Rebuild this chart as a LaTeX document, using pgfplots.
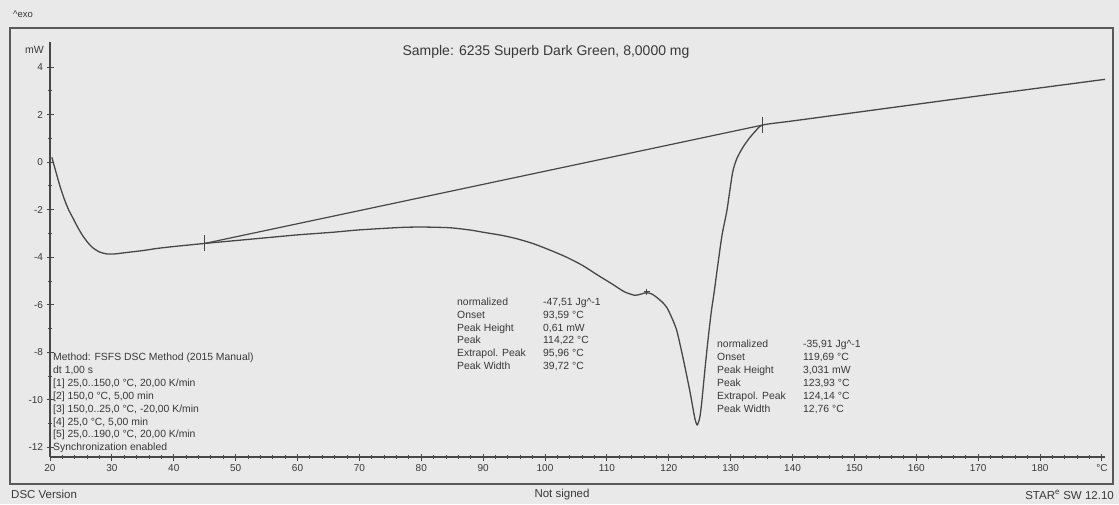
\documentclass[border=0pt]{standalone}
\usepackage{fontspec}
\setmainfont{Liberation Sans}
\usepackage{pgfplots}
\pgfplotsset{compat=1.18}
\definecolor{bg}{gray}{0.915}
\definecolor{ink}{gray}{0.28}
\definecolor{txt}{gray}{0.22}
\begin{document}
\begin{tikzpicture}[x=1pt,y=1pt]
\fill[bg] (0,0) rectangle (1119,504);
\useasboundingbox (0,0) rectangle (1119,504);
\draw[gray!70!black, line width=1.6pt] (10,20) rectangle (1113,476);
\begin{axis}[
  at={(50pt,47pt)}, anchor=south west,
  scale only axis, width=1055pt, height=415pt,
  xmin=20, xmax=190.5, ymin=-12.4, ymax=5.05,
  axis x line=bottom, axis y line=left,
  axis line style={-, draw=ink, line width=1.3pt},
  xtick={20,30,40,50,60,70,80,90,100,110,120,130,140,150,160,170,180,190},
  xticklabels={20,30,40,50,60,70,80,90,100,110,120,130,140,150,160,170,180,°C},
  minor x tick num=4,
  ytick={-12,-10,-8,-6,-4,-2,0,2,4},
  minor y tick num=1,
  tick align=center, major tick length=7pt, minor tick length=4pt,
  every tick/.style={ink, line width=0.9pt},
  ticklabel style={font=\fontsize{10}{11}\selectfont, text=txt},
  /pgf/number format/assume math mode=true,
]
\addplot[ink, line width=1.3pt, smooth, tension=0.4] coordinates {
(20.3,0.2) (21.0,-0.45) (21.6,-1.0) (22.3,-1.55) (23.0,-2.0) (23.7,-2.35)
(24.5,-2.75) (25.3,-3.1) (26.1,-3.38) (26.9,-3.6) (28.0,-3.78) (29.2,-3.86)
(30.5,-3.86) (32.4,-3.80) (35.0,-3.72) (37.3,-3.63) (40.0,-3.55) (45.0,-3.42)
(50.0,-3.30) (55.0,-3.18) (60.0,-3.06) (65.7,-2.95) (70.0,-2.85) (76.5,-2.75)
(80.0,-2.73) (84.6,-2.76) (88.0,-2.86) (90.0,-2.95) (93.0,-3.08) (95.4,-3.22)
(98.0,-3.42) (100.8,-3.70) (103.5,-4.0) (106.1,-4.35) (108.5,-4.75) (111.0,-5.15)
(112.8,-5.45) (114.5,-5.60) (115.5,-5.55) (116.4,-5.49) (117.3,-5.55) (118.1,-5.70)
(119.0,-5.90) (119.7,-6.12) (120.5,-6.55) (121.3,-7.09) (122.3,-8.23) (123.4,-9.62)
(124.2,-10.76) (124.6,-11.05) (125.0,-10.75) (125.3,-10.17) (125.7,-9.1) (126.1,-8.06)
(126.5,-7.1) (126.9,-6.24) (127.4,-5.35) (127.8,-4.56) (128.6,-3.08) (129.4,-2.03)
(130.3,-0.46) (131.0,0.15) (132.0,0.63) (133.0,1.0) (134.0,1.3) (135.2,1.56)
(140.0,1.73) (150.0,2.08) (160.0,2.43) (170.0,2.78) (180.0,3.12) (190.5,3.48)
};
% integration baseline
\addplot[ink, line width=1.2pt] coordinates {(45.0,-3.42) (135.2,1.56)};
\addplot[ink, only marks, mark=|, mark size=8pt, mark options={line width=1.2pt}] coordinates {(45.0,-3.42) (135.2,1.56)};
\addplot[ink, only marks, mark=+, mark size=3pt, mark options={line width=0.9pt}] coordinates {(116.4,-5.45)};
\end{axis}
% texts
\node[anchor=west, text=txt, font=\fontsize{9.5}{10}\selectfont, inner sep=0] at (13,490) {\textasciicircum exo};
\node[anchor=east, text=txt, font=\fontsize{10.5}{11}\selectfont, inner sep=0] at (44,454) {mW};
\node[text=txt, font=\fontsize{14}{16}\selectfont, inner sep=0] at (546,452) {Sample: 6235 Superb Dark Green, 8,0000 mg};
\node[anchor=base west, inner sep=0, text=txt, font=\fontsize{10.4}{12.8}\selectfont] at (457,198.5) {%
\begin{tabular}[t]{@{}p{86pt}@{}l@{}}
normalized & -47,51 Jg\textasciicircum -1\\
Onset & 93,59 °C\\
Peak Height & 0,61 mW\\
Peak & 114,22 °C\\
Extrapol. Peak & 95,96 °C\\
Peak Width & 39,72 °C
\end{tabular}};
\node[anchor=base west, inner sep=0, text=txt, font=\fontsize{10.4}{13}\selectfont] at (717,156.5) {%
\begin{tabular}[t]{@{}p{86pt}@{}l@{}}
normalized & -35,91 Jg\textasciicircum -1\\
Onset & 119,69 °C\\
Peak Height & 3,031 mW\\
Peak & 123,93 °C\\
Extrapol. Peak & 124,14 °C\\
Peak Width & 12,76 °C
\end{tabular}};
\node[anchor=base west, inner sep=0, text=txt, font=\fontsize{10.4}{12.9}\selectfont] at (53,143.5) {%
\begin{tabular}[t]{@{}l@{}}
Method: FSFS DSC Method (2015 Manual)\\
dt 1,00 s\\
{[1]} 25,0..150,0 °C, 20,00 K/min\\
{[2]} 150,0 °C, 5,00 min\\
{[3]} 150,0..25,0 °C, -20,00 K/min\\
{[4]} 25,0 °C, 5,00 min\\
{[5]} 25,0..190,0 °C, 20,00 K/min\\
Synchronization enabled
\end{tabular}};
\node[anchor=west, text=txt, font=\fontsize{11.5}{12}\selectfont, inner sep=0] at (11,10) {DSC Version};
\node[text=txt, font=\fontsize{11.5}{12}\selectfont, inner sep=0] at (562,9) {Not signed};
\node[anchor=east, text=txt, font=\fontsize{11.5}{12}\selectfont, inner sep=0] at (1114,9) {STAR\textsuperscript{e} SW 12.10};
\end{tikzpicture}
\end{document}
